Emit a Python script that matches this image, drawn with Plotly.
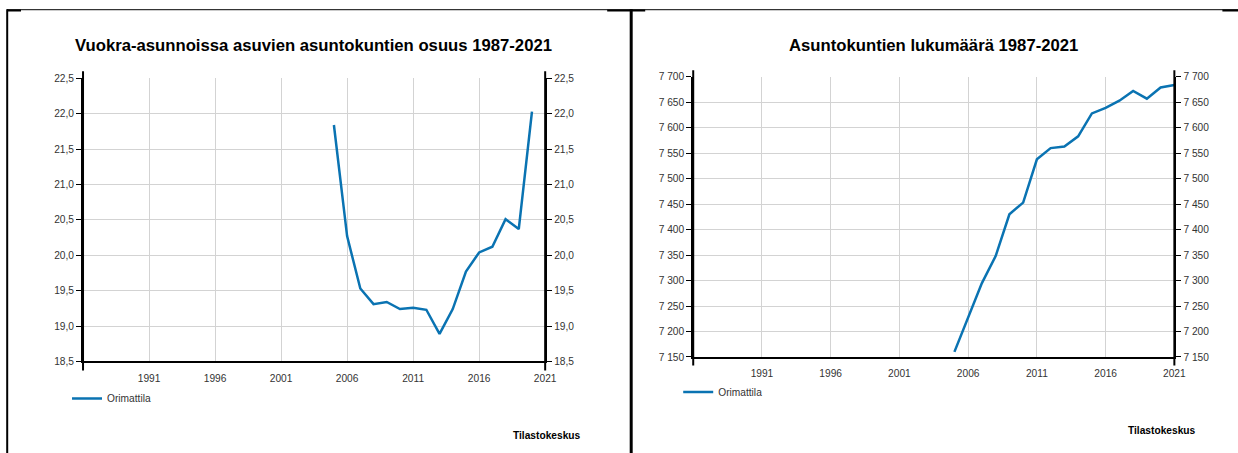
import plotly.graph_objects as go

W, H = 1238, 453

# ---- data ----
years_left = [2005, 2006, 2007, 2008, 2009, 2010, 2011, 2012, 2013, 2014,
              2015, 2016, 2017, 2018, 2019, 2020]
share_rent = [21.84, 20.27, 19.53, 19.31, 19.34, 19.24, 19.26, 19.23, 18.89, 19.24,
              19.77, 20.04, 20.12, 20.51, 20.37, 22.03]

years_right = [2005, 2006, 2007, 2008, 2009, 2010, 2011, 2012, 2013, 2014,
               2015, 2016, 2017, 2018, 2019, 2020, 2021]
households = [7160, 7227, 7295, 7348, 7430, 7453, 7538, 7560, 7563, 7583,
              7628, 7639, 7653, 7672, 7657, 7679, 7684]

x_ticks = [1991, 1996, 2001, 2006, 2011, 2016, 2021]
series_name = "Orimattila"
title_left = "Vuokra-asunnoissa asuvien asuntokuntien osuus 1987-2021"
title_right = "Asuntokuntien lukumäärä 1987-2021"
source = "Tilastokeskus"

# ---- helpers: target picture pixel -> paper fraction ----
# (empirical correction for the capture pipeline)
SX, OX = 0.99, 0.0
SY, OY = 0.975, 5.8

def px(x):
    return ((x - OX) / SX) / W

def py(y):
    return 1 - ((y - OY) / SY) / H

FS = 1.02  # font compensation

LINE = "#0a73b2"
FONT = "Arial, Liberation Sans, sans-serif"
GRID = "#d3d3d3"
TXT = "#333333"

fig = go.Figure()
fig.add_trace(go.Scatter(x=years_left, y=share_rent, mode="lines", name=series_name,
                         line=dict(color=LINE, width=2.5), xaxis="x", yaxis="y",
                         legend="legend"))
fig.add_trace(go.Scatter(x=years_left, y=share_rent, mode="lines", showlegend=False,
                         line=dict(color="rgba(0,0,0,0)", width=0), xaxis="x", yaxis="y3",
                         hoverinfo="skip"))
fig.add_trace(go.Scatter(x=years_right, y=households, mode="lines", name=series_name,
                         line=dict(color=LINE, width=2.5), xaxis="x2", yaxis="y2",
                         legend="legend2"))
fig.add_trace(go.Scatter(x=years_right, y=households, mode="lines", showlegend=False,
                         line=dict(color="rgba(0,0,0,0)", width=0), xaxis="x2", yaxis="y4",
                         hoverinfo="skip"))

TICKF = dict(size=10 * FS, color=TXT, family=FONT)
xcommon = dict(range=[1986, 2021], tickvals=x_ticks, showgrid=True, gridcolor=GRID,
               gridwidth=1, showline=True, linecolor="black", linewidth=2,
               ticks="outside", ticklen=6, tickcolor="rgba(0,0,0,0)",
               tickfont=TICKF, zeroline=False, fixedrange=True)
ycommon = dict(showgrid=True, gridcolor=GRID, gridwidth=1, showline=True,
               linecolor="black", linewidth=2, ticks="outside", ticklen=5,
               tickcolor="black", tickwidth=1,
               tickfont=TICKF, zeroline=False, fixedrange=True)

L_dom_x = [px(83), px(545)]
L_dom_y = [py(362), py(79)]
R_dom_x = [px(693), px(1174)]
R_dom_y = [py(357.5), py(77.5)]

fig.update_layout(
    width=W, height=H, margin=dict(l=0, r=0, t=0, b=0),
    paper_bgcolor="white", plot_bgcolor="white",
    separators=", ",
    font=dict(family=FONT, color=TXT, size=10),
    xaxis=dict(domain=L_dom_x, anchor="y", **xcommon),
    yaxis=dict(domain=L_dom_y, anchor="x", range=[18.5, 22.5], dtick=0.5,
               tickformat=".1f", **ycommon),
    yaxis3=dict(overlaying="y", side="right", anchor="x", range=[18.5, 22.5],
                dtick=0.5, tickformat=".1f", **{**ycommon, "showgrid": False}),
    xaxis2=dict(domain=R_dom_x, anchor="y2", **xcommon),
    yaxis2=dict(domain=R_dom_y, anchor="x2", range=[7150, 7700], dtick=50,
                tickformat=",d", **ycommon),
    yaxis4=dict(overlaying="y2", side="right", anchor="x2", range=[7150, 7700],
                dtick=50, tickformat=",d", **{**ycommon, "showgrid": False}),
    legend=dict(x=px(67), y=py(399), xanchor="left", yanchor="middle",
                font=TICKF, bgcolor="rgba(0,0,0,0)"),
    legend2=dict(x=px(678), y=py(392.5), xanchor="left", yanchor="middle",
                 font=TICKF, bgcolor="rgba(0,0,0,0)"),
    showlegend=True,
)

TITLEF = dict(size=16.7, color="black", family=FONT)
SRCF = dict(size=10 * FS, color="black", family=FONT)
annotations = [
    dict(text="<b>" + title_left + "</b>", x=px(313), y=py(46), xref="paper", yref="paper",
         showarrow=False, font=TITLEF, xanchor="center", yanchor="middle"),
    dict(text="<b>" + title_right + "</b>", x=px(933), y=py(46), xref="paper", yref="paper",
         showarrow=False, font=TITLEF, xanchor="center", yanchor="middle"),
    dict(text="<b>" + source + "</b>", x=px(583), y=py(436), xref="paper", yref="paper",
         showarrow=False, font=SRCF, xanchor="right", yanchor="middle"),
    dict(text="<b>" + source + "</b>", x=px(1198), y=py(430.5), xref="paper", yref="paper",
         showarrow=False, font=SRCF, xanchor="right", yanchor="middle"),
]
fig.update_layout(annotations=annotations)

def seg(x0, y0, x1, y1, w):
    return dict(type="line", xref="paper", yref="paper", x0=px(x0), y0=py(y0),
                x1=px(x1), y1=py(y1), line=dict(color="black", width=w), layer="above")

shapes = [
    # screenshot frame
    seg(7, 10.5, W + 20, 10.5, 1),
    seg(7, 11.3, 21, 11.3, 2),
    seg(607, 11.3, 645, 11.3, 2),
    seg(1222, 11.3, W + 20, 11.3, 2),
    seg(7.2, 10, 7.2, H + 20, 2),
    seg(631, 10, 631, H + 20, 3),
    # axis lines extending beyond plot area
    seg(83, 72, 83, 371, 2),
    seg(545, 72, 545, 371, 2),
    seg(693, 71, 693, 366, 2),
    seg(1174, 71, 1174, 366, 2),
]
fig.update_layout(shapes=shapes)

fig.write_html(
    "out.html",
    config={"displayModeBar": False},
    post_script="document.body.style.margin='0';document.body.style.overflow='hidden';",
)
